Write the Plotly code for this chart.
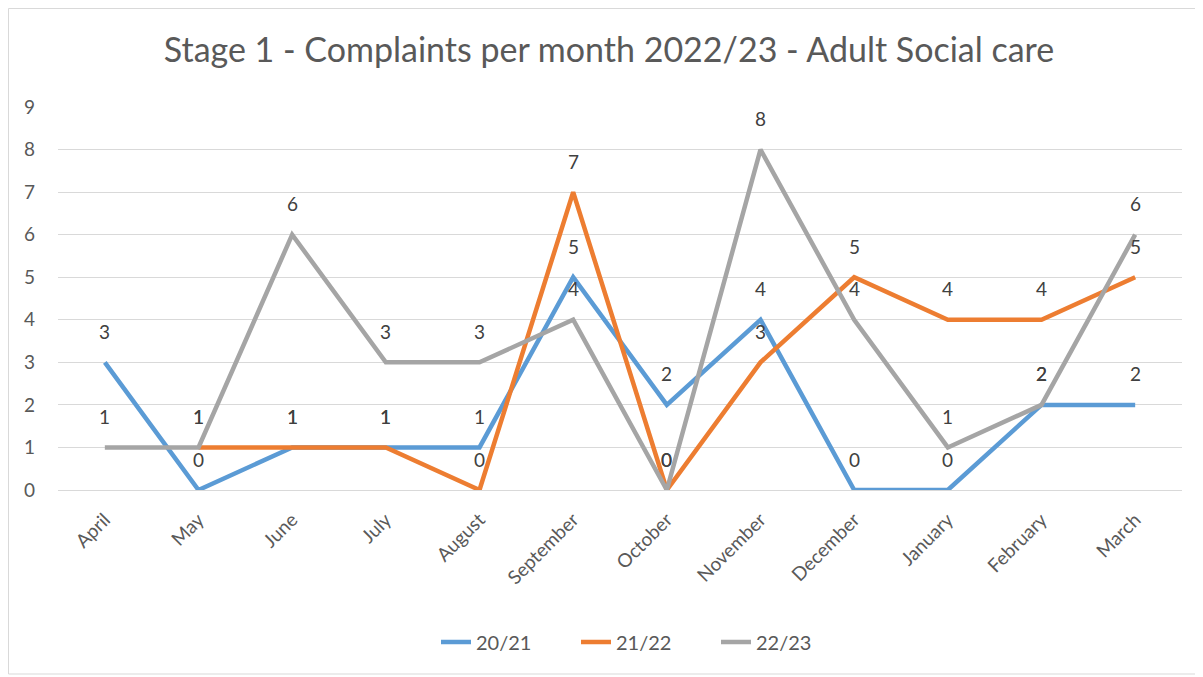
import plotly.graph_objects as go

months = ["April", "May", "June", "July", "August", "September", "October",
          "November", "December", "January", "February", "March"]
s2021 = [3, 0, 1, 1, 1, 5, 2, 4, 0, 0, 2, 2]
s2122 = [None, 1, 1, 1, 0, 7, 0, 3, 5, 4, 4, 5]
s2223 = [1, 1, 6, 3, 3, 4, 0, 8, 4, 1, 2, 6]
series_names = ["20/21", "21/22", "22/23"]
colors = ["#5B9BD5", "#ED7D31", "#A5A5A5"]
title = "Stage 1 - Complaints per month 2022/23 - Adult Social care"
y_ticks = list(range(0, 10))

FONT = "Lato"
TXT = "#595959"
OFF = 8  # page body margin
W, H = 1203 - OFF, 677 - OFF

fig = go.Figure()
annotations = []
for name, vals, col in zip(series_names, [s2021, s2122, s2223], colors):
    fig.add_trace(go.Scatter(
        x=months, y=vals, name=name, mode="lines",
        line=dict(color=col, width=4.5), connectgaps=False,
    ))
    for m, v in zip(months, vals):
        if v is None:
            continue
        annotations.append(dict(
            x=m, y=v, xref="x", yref="y", text=str(v), showarrow=False,
            yshift=31, yanchor="middle", xanchor="center",
            font=dict(family=FONT, size=19, color="#404040"),
        ))

# plot area in screen px: x 58..1182, y 107..490
PL, PR, PT, PB = 58 - OFF, 1182 - OFF, 107 - OFF, 490 - OFF

def px_x(p):
    return (p - OFF - PL) / (PR - PL)

def px_y(p):
    return (PB - (p - OFF)) / (PB - PT)

fig.update_layout(
    width=W, height=H,
    margin=dict(l=PL, r=W - PR, t=PT, b=H - PB),
    paper_bgcolor="white", plot_bgcolor="white",
    title=dict(text=title, xref="container", x=(609 - OFF) / W, xanchor="center",
               y=1 - (50 - OFF) / H, yanchor="middle",
               font=dict(family=FONT, size=34, color=TXT)),
    font=dict(family=FONT, color=TXT),
    showlegend=True,
    legend=dict(orientation="h", x=px_x(646), xanchor="center", y=px_y(642), yanchor="middle",
                font=dict(family=FONT, size=20, color=TXT), entrywidth=95),
    annotations=annotations,
    shapes=[dict(type="rect", xref="paper", yref="paper",
                 x0=px_x(OFF + 0.5), x1=px_x(1198), y0=px_y(674), y1=px_y(OFF + 0.5),
                 line=dict(color="#D9D9D9", width=1), fillcolor="rgba(0,0,0,0)",
                 layer="below")],
)
fig.update_xaxes(
    type="category", range=[-0.5, len(months) - 0.5], tickangle=-45,
    showgrid=False, showline=False, zeroline=False,
    ticks="", ticklabelstandoff=14, tickfont=dict(family=FONT, size=19, color=TXT),
)
fig.update_yaxes(
    range=[0, 9], tickvals=y_ticks, showgrid=True, gridcolor="#D9D9D9", gridwidth=1,
    zeroline=True, zerolinecolor="#D9D9D9", zerolinewidth=1, showline=False, ticks="",
    ticklabelstandoff=22,
    tickfont=dict(family=FONT, size=19, color=TXT),
)
fig.write_html("out.html")
